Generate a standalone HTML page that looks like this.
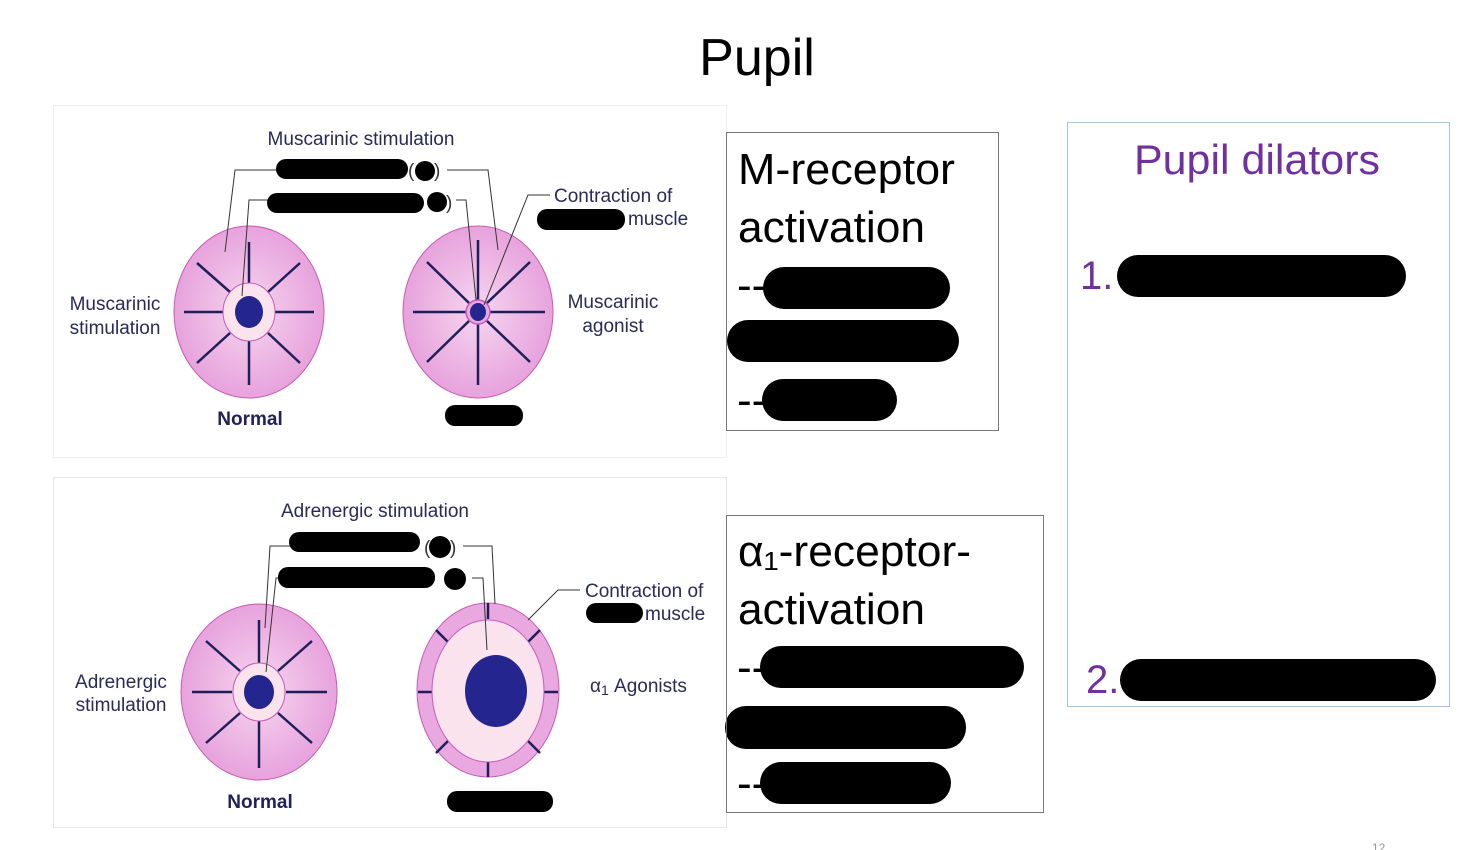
<!DOCTYPE html>
<html><head><meta charset="utf-8"><style>
html,body{margin:0;padding:0;background:#fff;}
svg{display:block;font-family:"Liberation Sans",Arial,sans-serif;}
</style></head><body>
<svg width="1460" height="850" viewBox="0 0 1460 850" xmlns="http://www.w3.org/2000/svg">
<defs>
<radialGradient id="pk" cx="50%" cy="50%" r="50%">
<stop offset="0" stop-color="#f6d6f0"/><stop offset="1" stop-color="#e7a2dc"/>
</radialGradient>
</defs>
<rect width="1460" height="850" fill="#fff"/>
<text x="757" y="75" font-size="52" text-anchor="middle" fill="#000">Pupil</text>

<rect x="53.5" y="105.5" width="673" height="352" fill="#fff" stroke="#f0f0f0"/>
<rect x="53.5" y="477.5" width="673" height="350" fill="#fff" stroke="#e8e8e8"/>

<g fill="#2a2a5a" font-size="19">
<text x="361" y="145" text-anchor="middle">Muscarinic stimulation</text>
<text x="554" y="202">Contraction of</text>
<text x="628" y="225">muscle</text>
<text x="115" y="310" text-anchor="middle">Muscarinic</text>
<text x="115" y="334" text-anchor="middle">stimulation</text>
<text x="613" y="308" text-anchor="middle">Muscarinic</text>
<text x="613" y="332" text-anchor="middle">agonist</text>
<text x="250" y="425" text-anchor="middle" font-weight="bold" fill="#22225a">Normal</text>

<text x="375" y="517" text-anchor="middle">Adrenergic stimulation</text>
<text x="585" y="597">Contraction of</text>
<text x="645" y="620">muscle</text>
<text x="121" y="688" text-anchor="middle">Adrenergic</text>
<text x="121" y="711" text-anchor="middle">stimulation</text>
<text x="590" y="692">α<tspan font-size="14" dy="3">1</tspan><tspan dy="-3"> Agonists</tspan></text>
<text x="260" y="808" text-anchor="middle" font-weight="bold" fill="#22225a">Normal</text>
</g>

<g stroke="#1e1e5a" stroke-width="2.5">
<ellipse cx="249" cy="312" rx="75" ry="86" fill="url(#pk)" stroke="#c85ab8" stroke-width="1"/>
<line x1="249" y1="242" x2="249" y2="286"/><line x1="249" y1="338" x2="249" y2="385"/>
<line x1="184" y1="312" x2="223" y2="312"/><line x1="275" y1="312" x2="314" y2="312"/>
<line x1="197" y1="263" x2="230" y2="292"/><line x1="300" y1="263" x2="268" y2="292"/>
<line x1="197" y1="363" x2="230" y2="333"/><line x1="300" y1="363" x2="268" y2="333"/>
<ellipse cx="249" cy="312" rx="26" ry="29" fill="#fbe3ee" stroke="#c85ab8" stroke-width="1"/>
<ellipse cx="249" cy="312" rx="14" ry="16" fill="#25258f" stroke="none"/>
</g>
<g stroke="#1e1e5a" stroke-width="2.5">
<ellipse cx="478" cy="312" rx="75" ry="86" fill="url(#pk)" stroke="#c85ab8" stroke-width="1"/>
<line x1="478" y1="240" x2="478" y2="300"/><line x1="478" y1="324" x2="478" y2="385"/>
<line x1="413" y1="312" x2="466" y2="312"/><line x1="490" y1="312" x2="545" y2="312"/>
<line x1="427" y1="262" x2="469" y2="303"/><line x1="530" y1="262" x2="487" y2="303"/>
<line x1="427" y1="362" x2="469" y2="321"/><line x1="530" y1="362" x2="487" y2="321"/>
<circle cx="478" cy="312" r="12" fill="#e8a8e0" stroke="#c85ab8" stroke-width="1.5"/>
<ellipse cx="478" cy="312" rx="8" ry="9" fill="#25258f" stroke="none"/>
</g>
<g fill="none" stroke="#333" stroke-width="1">
<polyline points="225,252 235,170 277,170"/>
<polyline points="242,296 249,200 268,200"/>
<polyline points="447,170 488,170 498,250"/>
<polyline points="456,200 466,200 476,300"/>
<polyline points="484,305 528,195 550,195"/>
</g>
<g stroke="#1e1e5a" stroke-width="2.5">
<ellipse cx="259" cy="692" rx="78" ry="88" fill="url(#pk)" stroke="#c85ab8" stroke-width="1"/>
<line x1="259" y1="620" x2="259" y2="664"/><line x1="259" y1="720" x2="259" y2="768"/>
<line x1="192" y1="692" x2="232" y2="692"/><line x1="286" y1="692" x2="327" y2="692"/>
<line x1="206" y1="641" x2="240" y2="671"/><line x1="312" y1="641" x2="278" y2="671"/>
<line x1="206" y1="743" x2="240" y2="713"/><line x1="312" y1="743" x2="278" y2="713"/>
<ellipse cx="259" cy="692" rx="26" ry="29" fill="#fbe3ee" stroke="#c85ab8" stroke-width="1"/>
<ellipse cx="259" cy="692" rx="15" ry="17" fill="#25258f" stroke="none"/>
</g>
<g stroke="#1e1e5a" stroke-width="2.5">
<ellipse cx="488" cy="690" rx="71" ry="87" fill="#e9a8df" stroke="#c85ab8" stroke-width="1"/>
<line x1="488" y1="603" x2="488" y2="619"/><line x1="488" y1="761" x2="488" y2="777"/>
<line x1="418" y1="692" x2="433" y2="692"/><line x1="543" y1="692" x2="558" y2="692"/>
<line x1="436" y1="630" x2="448" y2="642"/><line x1="540" y1="630" x2="528" y2="642"/>
<line x1="436" y1="753" x2="448" y2="741"/><line x1="540" y1="753" x2="528" y2="741"/>
<ellipse cx="488" cy="691" rx="56" ry="71" fill="#fbe3ee" stroke="#c85ab8" stroke-width="1"/>
<ellipse cx="496" cy="691" rx="31" ry="36" fill="#25258f" stroke="none"/>
</g>
<g fill="none" stroke="#333" stroke-width="1">
<polyline points="265,628 270,546 290,546"/>
<polyline points="266,672 276,578 285,578"/>
<polyline points="463,546 492,546 495,604"/>
<polyline points="472,578 483,578 487,650"/>
<polyline points="528,620 558,590 580,590"/>
</g>

<g fill="#000">
<rect x="276" y="159" width="132" height="20" rx="10"/>
<text x="408" y="177" font-size="19" fill="#333">(</text><circle cx="425" cy="171" r="10"/><text x="434" y="177" font-size="19" fill="#333">)</text>
<rect x="267" y="193" width="157" height="20" rx="10"/>
<circle cx="437" cy="202" r="10"/><text x="446" y="209" font-size="19" fill="#333">)</text>
<rect x="537" y="209" width="88" height="21" rx="10"/>
<rect x="445" y="405" width="78" height="21" rx="10"/>
<rect x="289" y="532" width="131" height="20" rx="10"/>
<text x="424" y="554" font-size="19" fill="#333">(</text><circle cx="440" cy="547" r="11"/><text x="450" y="554" font-size="19" fill="#333">)</text>
<rect x="278" y="567" width="157" height="21" rx="10"/>
<circle cx="455" cy="579" r="11"/>
<rect x="586" y="603" width="57" height="20" rx="10"/>
<rect x="447" y="791" width="106" height="21" rx="10"/>
</g>

<rect x="726.5" y="132.5" width="272" height="298" fill="none" stroke="#777"/>
<g font-size="44" fill="#000">
<text x="738" y="184" textLength="217" lengthAdjust="spacingAndGlyphs">M-receptor</text>
<text x="738" y="242" textLength="187" lengthAdjust="spacingAndGlyphs">activation</text>
<text x="737" y="300">--</text>
<text x="737" y="415">--</text>
<text x="738" y="566" textLength="233" lengthAdjust="spacingAndGlyphs">α₁-receptor-</text>
<text x="738" y="624" textLength="187" lengthAdjust="spacingAndGlyphs">activation</text>
<text x="737" y="682">--</text>
<text x="737" y="798">--</text>
</g>
<g fill="#000">
<rect x="763" y="267" width="187" height="42" rx="21"/>
<rect x="727" y="320" width="232" height="42" rx="21"/>
<rect x="762" y="379" width="135" height="42" rx="21"/>
<rect x="760" y="646" width="264" height="42" rx="21"/>
<rect x="725" y="706" width="241" height="43" rx="21"/>
<rect x="760" y="762" width="191" height="42" rx="21"/>
</g>
<rect x="726.5" y="515.5" width="317" height="297" fill="none" stroke="#777"/>

<rect x="1067.5" y="122.5" width="382" height="584" fill="none" stroke="#a8c4dc"/>
<text x="1257" y="174" font-size="42" fill="#7030a0" text-anchor="middle" textLength="246" lengthAdjust="spacingAndGlyphs">Pupil dilators</text>
<text x="1080" y="289" font-size="40" fill="#7030a0">1.</text>
<text x="1086" y="693" font-size="40" fill="#7030a0">2.</text>
<rect x="1117" y="255" width="289" height="42" rx="21" fill="#000"/>
<rect x="1120" y="659" width="316" height="42" rx="21" fill="#000"/>
<text x="1372" y="852" font-size="12" fill="#999">12</text>
</svg>
</body></html>
